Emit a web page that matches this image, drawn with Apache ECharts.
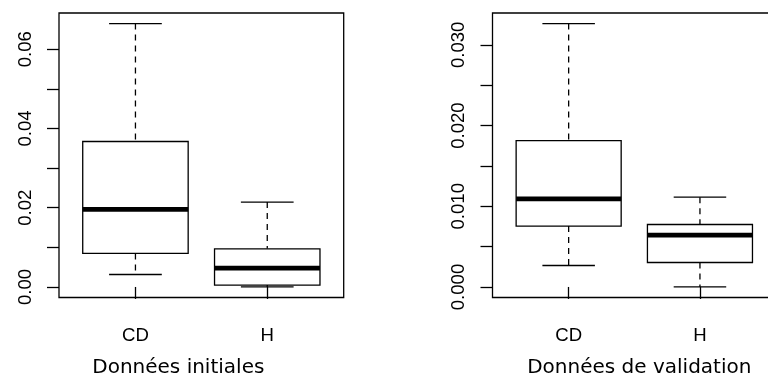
<!DOCTYPE html>
<html><head><meta charset="utf-8">
<script src="https://cdn.jsdelivr.net/npm/echarts@6/dist/echarts.min.js"></script>
<style>html,body{margin:0;padding:0;background:#fff}#c{width:768px;height:385px}</style>
</head><body><div id="c"></div>
<script>
// ---- data ----
const categories = ['CD', 'H'];
const initialMin    = [0.00315, 0.00000];
const initialQ1     = [0.00845, 0.00048];
const initialMedian = [0.01955, 0.00477];
const initialQ3     = [0.03670, 0.00963];
const initialMax    = [0.06646, 0.02141];

const validMin    = [0.00266, 0.00000];
const validQ1     = [0.00754, 0.00303];
const validMedian = [0.01092, 0.00643];
const validQ3     = [0.01814, 0.00774];
const validMax    = [0.03264, 0.01113];

const leftTicks  = [0, 0.01, 0.02, 0.03, 0.04, 0.05, 0.06];
const leftLabels = [0, 0.02, 0.04, 0.06];
const rightTicks  = [0, 0.005, 0.01, 0.015, 0.02, 0.025, 0.03];
const rightLabels = [0, 0.01, 0.02, 0.03];
const panelTitles = ['Données initiales', 'Données de validation'];

// ---- build ----
const pos = categories.map((c, i) => i + 1);
function rows(mn, q1, md, q3, mx) {
  return pos.map((p, i) => [p, mn[i], q1[i], md[i], q3[i], mx[i]]);
}
function pad(lo, hi) { const d = (hi - lo) * 0.04; return [lo - d, hi + d]; }
const leftRange = pad(0, Math.max(...initialMax));
const rightRange = pad(0, Math.max(...validMax));
const xRange = pad(0.5, categories.length + 0.5);

const lineW = 1.3;
function renderBox(params, api) {
  const x = api.value(0);
  const mn = api.value(1), q1 = api.value(2), md = api.value(3), q3 = api.value(4), mx = api.value(5);
  const hw = 0.4, cw = 0.2;
  const tl = api.coord([x - hw, q3]);
  const br = api.coord([x + hw, q1]);
  const mL = api.coord([x - hw, md]);
  const mR = api.coord([x + hw, md]);
  const cTop = api.coord([x, mx]);
  const cQ3 = api.coord([x, q3]);
  const cQ1 = api.coord([x, q1]);
  const cBot = api.coord([x, mn]);
  const capTL = api.coord([x - cw, mx]), capTR = api.coord([x + cw, mx]);
  const capBL = api.coord([x - cw, mn]), capBR = api.coord([x + cw, mn]);
  const solid = { stroke: '#000', lineWidth: lineW, fill: null };
  const dashed = { stroke: '#000', lineWidth: lineW, lineDash: [6, 5], fill: null };
  return {
    type: 'group',
    children: [
      { type: 'line', shape: { x1: cTop[0], y1: cTop[1], x2: cQ3[0], y2: cQ3[1] }, style: dashed },
      { type: 'line', shape: { x1: cQ1[0], y1: cQ1[1], x2: cBot[0], y2: cBot[1] }, style: dashed },
      { type: 'line', shape: { x1: capTL[0], y1: capTL[1], x2: capTR[0], y2: capTR[1] }, style: solid },
      { type: 'line', shape: { x1: capBL[0], y1: capBL[1], x2: capBR[0], y2: capBR[1] }, style: solid },
      { type: 'rect', shape: { x: tl[0], y: tl[1], width: br[0] - tl[0], height: br[1] - tl[1] },
        style: { stroke: '#000', lineWidth: lineW, fill: '#fff' } },
      { type: 'line', shape: { x1: mL[0], y1: mL[1], x2: mR[0], y2: mR[1] },
        style: { stroke: '#000', lineWidth: 4.8, lineCap: 'butt' } }
    ]
  };
}

const tickFont = { fontFamily: 'Liberation Sans', fontSize: 18.6, color: '#000' };

function xAxisDef(gi) {
  return {
    type: 'value', gridIndex: gi, min: xRange[0], max: xRange[1],
    splitLine: { show: false },
    axisLine: { show: false },
    axisTick: { show: true, length: 12, inside: false, customValues: pos, lineStyle: { color: '#000', width: lineW } },
    axisLabel: Object.assign({ show: true, margin: 29, customValues: pos,
      formatter: v => categories[Math.round(v) - 1] }, tickFont)
  };
}
function yAxisDef(gi, range, ticks, labels, dec) {
  return {
    type: 'value', gridIndex: gi, min: range[0], max: range[1],
    splitLine: { show: false },
    axisLine: { show: false },
    axisTick: { show: true, length: 12, inside: false, customValues: ticks, lineStyle: { color: '#000', width: lineW } },
    axisLabel: Object.assign({ show: true, rotate: 90, margin: 24, customValues: labels,
      formatter: v => v.toFixed(dec) }, tickFont)
  };
}

const chart = echarts.init(document.getElementById('c'), null, { renderer: 'canvas' });
chart.setOption({
  backgroundColor: '#fff',
  animation: false,
  grid: [
    { left: 59, top: 13, width: 284.7, height: 284.5, show: true, borderColor: '#000', borderWidth: lineW,
      backgroundColor: 'transparent', outerBoundsMode: 'none', containLabel: false },
    { left: 492.5, top: 13, width: 283.6, height: 284.5, show: true, borderColor: '#000', borderWidth: lineW,
      backgroundColor: 'transparent', outerBoundsMode: 'none', containLabel: false }
  ],
  xAxis: [xAxisDef(0), xAxisDef(1)],
  yAxis: [
    yAxisDef(0, leftRange, leftTicks, leftLabels, 2),
    yAxisDef(1, rightRange, rightTicks, rightLabels, 3)
  ],
  series: [
    { type: 'custom', xAxisIndex: 0, yAxisIndex: 0, renderItem: renderBox,
      encode: { x: 0, y: [1, 2, 3, 4, 5] },
      data: rows(initialMin, initialQ1, initialMedian, initialQ3, initialMax) },
    { type: 'custom', xAxisIndex: 1, yAxisIndex: 1, renderItem: renderBox,
      encode: { x: 0, y: [1, 2, 3, 4, 5] },
      data: rows(validMin, validQ1, validMedian, validQ3, validMax) }
  ],
  graphic: [
    { type: 'text', x: 178.3, y: 368, style: { text: panelTitles[0], font: '20px "DejaVu Sans"', fill: '#000', textAlign: 'center', textVerticalAlign: 'middle' } },
    { type: 'text', x: 639.3, y: 368, style: { text: panelTitles[1], font: '20px "DejaVu Sans"', fill: '#000', textAlign: 'center', textVerticalAlign: 'middle' } }
  ]
});
</script>
</body></html>
